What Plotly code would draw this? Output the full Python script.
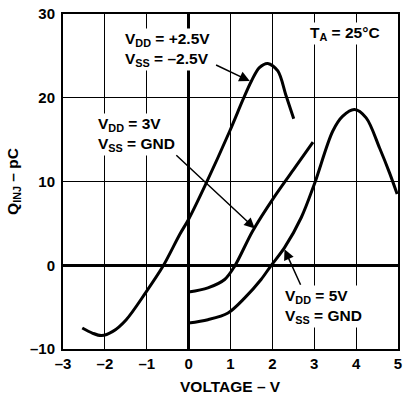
import plotly.graph_objects as go

# Charge injection vs. source voltage for three supply configurations
v_dual = [-2.54, -2.30, -2.08, -1.81, -1.49, -1.03, -0.61, -0.21, 0.00, 0.40,
          0.98, 1.30, 1.50, 1.69, 1.89, 2.13, 2.33, 2.51]
q_dual = [-7.5, -8.1, -8.4, -7.9, -6.5, -3.3, -0.1, 3.7, 5.5, 9.6,
          16.0, 19.8, 22.0, 23.6, 24.1, 23.2, 20.2, 17.5]

v_3v = [0.00, 0.46, 0.86, 1.10, 1.53, 2.05, 2.53, 2.97]
q_3v = [-3.2, -2.7, -1.7, -0.1, 4.1, 8.2, 11.6, 14.7]

v_5v = [0.00, 0.46, 0.94, 1.34, 1.73, 1.96, 2.29, 2.69, 3.01,
        3.44, 3.68, 3.96, 4.24, 4.56, 4.80, 4.98]
q_5v = [-6.9, -6.5, -5.7, -3.9, -1.7, -0.1, 2.1, 5.7, 9.8,
        16.0, 17.8, 18.6, 17.6, 14.0, 11.0, 8.5]

x_ticks = [-3, -2, -1, 0, 1, 2, 3, 4, 5]
x_tick_text = ["–3", "–2", "–1", "0", "1", "2", "3", "4", "5"]
y_ticks = [-10, 0, 10, 20, 30]
y_tick_text = ["–10", "0", "10", "20", "30"]

FONT = "Liberation Sans, Arial, Helvetica, sans-serif"

fig = go.Figure()
for xs, ys in [(v_dual, q_dual), (v_3v, q_3v), (v_5v, q_5v)]:
    fig.add_trace(go.Scatter(
        x=xs, y=ys, mode="lines",
        line=dict(color="black", width=3, shape="spline", smoothing=0.9),
        showlegend=False, hoverinfo="skip",
    ))

axis_common = dict(
    showgrid=True, gridcolor="black", gridwidth=1.3,
    zeroline=True, zerolinecolor="black", zerolinewidth=3,
    showline=True, linecolor="black", linewidth=2, mirror=True,
    ticks="", tickfont=dict(family=FONT, size=15, color="black", weight="bold"),
    automargin=False, fixedrange=True,
)

fig.update_xaxes(range=[-3, 5], tickvals=x_ticks, ticktext=x_tick_text, **axis_common)
fig.update_yaxes(range=[-10, 30], tickvals=y_ticks, ticktext=y_tick_text,
                 ticklabelstandoff=3, **axis_common)

label_font = dict(family=FONT, size=15.5, color="black")

# Curve labels (white boxes break the grid behind them)
labels = [
    (-1.57, 25.8, "<b>V<sub>DD</sub> = +2.5V<br>V<sub>SS</sub> = –2.5V</b>"),
    (-2.22, 15.6, "<b>V<sub>DD</sub> = 3V<br>V<sub>SS</sub> = GND</b>"),
    (2.25, -4.9, "<b>V<sub>DD</sub> = 5V<br>V<sub>SS</sub> = GND</b>"),
    (2.84, 27.7, "<b>T<sub>A</sub> = 25°C</b>"),
]
for lx, ly, txt in labels:
    fig.add_annotation(x=lx, y=ly, xref="x", yref="y", text=txt, showarrow=False,
                       xanchor="left", yanchor="middle", align="left",
                       bgcolor="white", borderpad=1, font=label_font)

# Pointer arrows from labels to curves
arrows = [
    ((0.62, 24.0), (1.46, 22.0)),
    ((-0.33, 13.3), (1.58, 4.4)),
    ((2.69, -2.5), (2.29, 1.9)),
]
for (tx, ty), (hx, hy) in arrows:
    fig.add_annotation(x=hx, y=hy, ax=tx, ay=ty, xref="x", yref="y",
                       axref="x", ayref="y", text="", showarrow=True,
                       arrowhead=2, arrowsize=1.4, arrowwidth=1.5,
                       arrowcolor="black", standoff=0)

# Axis titles
fig.add_annotation(x=0.5, y=-0.113, xref="paper", yref="paper",
                   text="<b>VOLTAGE – V</b>", showarrow=False,
                   xanchor="center", yanchor="middle", font=label_font)
fig.add_annotation(x=-0.148, y=0.5, xref="paper", yref="paper",
                   text="<b>Q<sub>INJ</sub> – pC</b>", showarrow=False, textangle=-90,
                   xanchor="center", yanchor="middle", font=label_font)

fig.update_layout(
    width=404, height=398,
    margin=dict(l=63, r=6, t=14, b=49),
    paper_bgcolor="white", plot_bgcolor="white",
    font=dict(family=FONT, color="black"),
)

fig.write_html("out.html")
